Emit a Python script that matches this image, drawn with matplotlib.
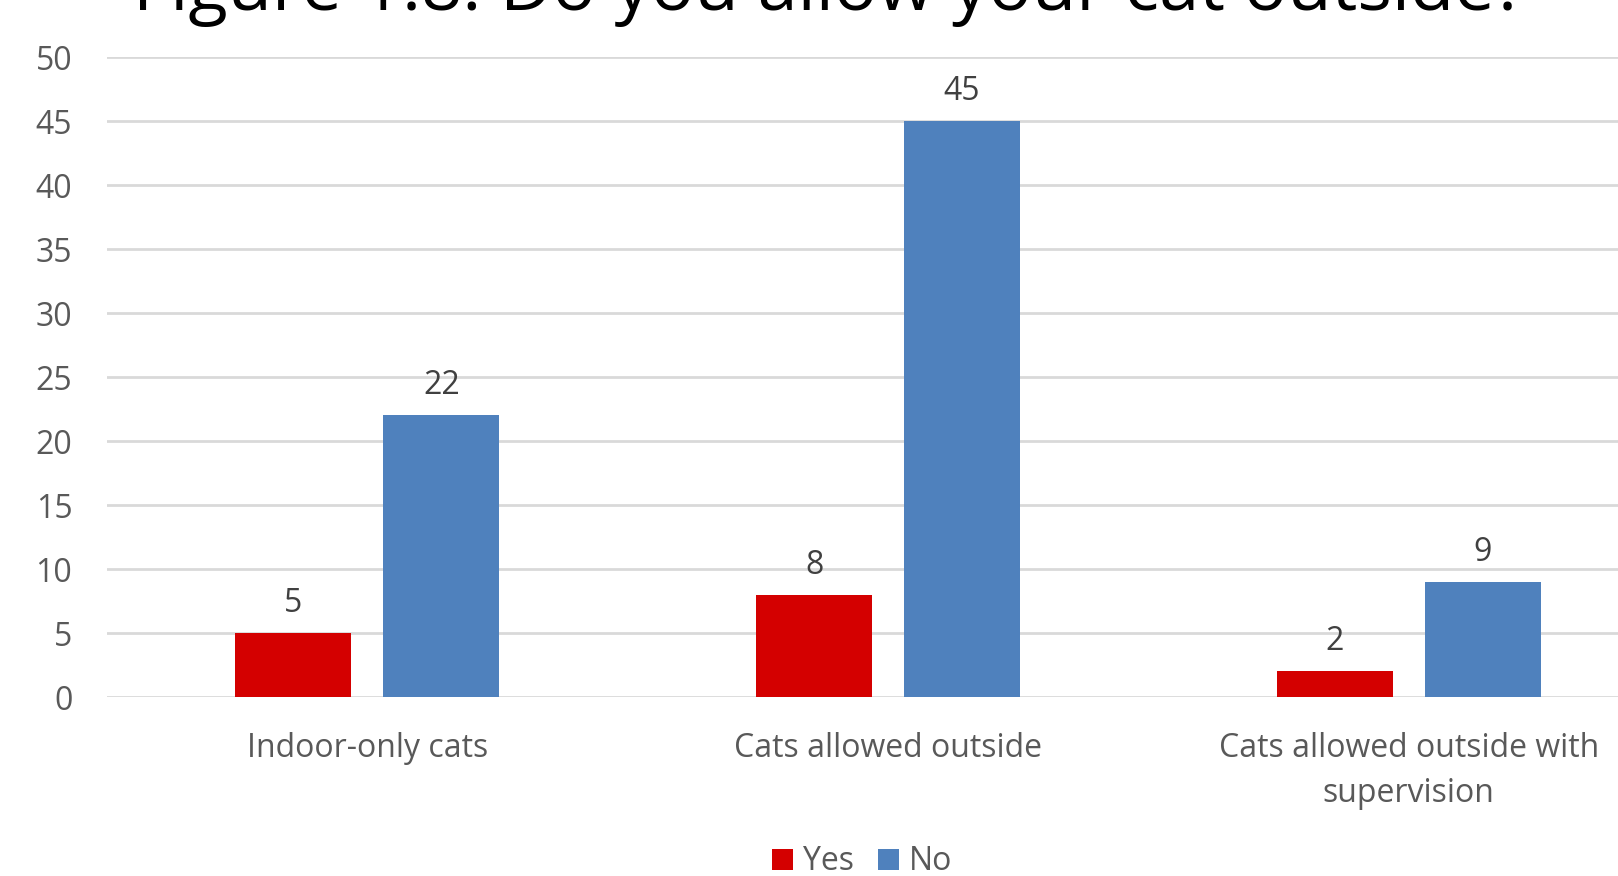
import numpy as np
import matplotlib
matplotlib.use("Agg")
import matplotlib.pyplot as plt

plt.rcParams['font.family'] = ['Open Sans', 'DejaVu Sans']

# chart data
categories = ["Indoor-only cats", "Cats allowed outside", "Cats allowed outside with\nsupervision"]
series_names = ["Yes", "No"]
yes_values = [5, 8, 2]
no_values = [22, 45, 9]
y_ticks = [0, 5, 10, 15, 20, 25, 30, 35, 40, 45, 50]
title = "Figure 1.8: Do you allow your cat outside?"

W, H = 1618, 876
fig = plt.figure(figsize=(W / 100, H / 100), dpi=100)
# plot area runs past the right edge of the picture, as in the reference
left, top, bottom = 107, 57, 697
ax = fig.add_axes([left / W, 1 - bottom / H, 1562 / W, (bottom - top) / H])

x = np.arange(len(categories))
bar_w = 0.2228
off = 0.142
red = "#D40000"
blue = "#4F81BD"

b1 = ax.bar(x - off, yes_values, bar_w, color=red, label=series_names[0], zorder=3)
b2 = ax.bar(x + off, no_values, bar_w, color=blue, label=series_names[1], zorder=3)

for bars in (b1, b2):
    for rect in bars:
        h = rect.get_height()
        ax.annotate(str(int(h)), (rect.get_x() + rect.get_width() / 2, h),
                    xytext=(0, 13), textcoords="offset pixels",
                    ha="center", va="bottom", fontsize=23, color="#404040")

ax.set_xlim(-0.5, len(categories) - 0.5)
ax.set_ylim(0, 50)
ax.set_yticks(y_ticks)
ax.set_xticks(x)
ax.set_xticklabels(categories, fontsize=23, color="#595959", linespacing=1.5)
ax.tick_params(axis="y", labelsize=23, labelcolor="#595959", length=0, pad=25)
ax.tick_params(axis="x", length=0, pad=25)
ax.grid(axis="y", color="#D9D9D9", linewidth=2, zorder=0)
for s in ax.spines.values():
    s.set_visible(False)

# title sits mostly above the picture, only its lower part shows
fig.text(829 / W, 1 - 10 / H, title, ha="center", va="baseline", fontsize=52, color="black")

fig.legend(loc="center", bbox_to_anchor=(862 / W, 1 - 862 / H), ncol=2, frameon=False,
           fontsize=23, handlelength=0.66, handleheight=0.66, handletextpad=0.31,
           columnspacing=0.75, labelcolor="#595959", borderpad=0, borderaxespad=0)

fig.savefig("out.png", dpi=100)
